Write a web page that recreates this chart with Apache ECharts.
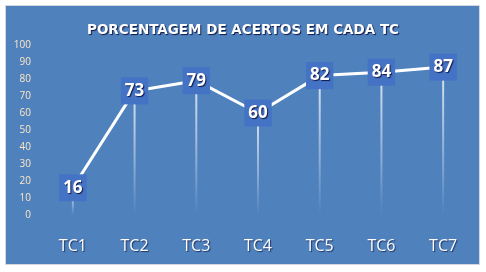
<!DOCTYPE html>
<html><head><meta charset="utf-8">
<script src="https://cdn.jsdelivr.net/npm/echarts@6/dist/echarts.min.js"></script>
<style>html,body{margin:0;padding:0;background:#fff}#c{width:486px;height:272px}</style>
</head><body><div id="c"></div>
<script>
const categories = ['TC1','TC2','TC3','TC4','TC5','TC6','TC7'];
const values = [16, 73, 79, 60, 82, 84, 87];
const yTicks = [0,10,20,30,40,50,60,70,80,90,100];
const titleText = 'PORCENTAGEM DE ACERTOS EM CADA TC';

const chart = echarts.init(document.getElementById('c'), null, {renderer:'canvas'});
chart.setOption({
  animation:false,
  backgroundColor:'#fff',
  graphic:[{type:'rect',z:-10,shape:{x:5.5,y:5.5,width:474,height:259},style:{fill:'#4F81BD',stroke:'#d4d8de',lineWidth:1}}],
  title:{text:titleText,left:'center',top:18,textStyle:{color:'#fff',fontFamily:'DejaVu Sans',fontWeight:'bold',fontSize:13.5,textShadowColor:'rgba(0,0,40,0.8)',textShadowBlur:1,textShadowOffsetX:1,textShadowOffsetY:1}},
  grid:{left:42,right:12,top:45,bottom:57},
  xAxis:{type:'category',data:categories,boundaryGap:true,
    axisLine:{show:false},axisTick:{show:false},
    axisLabel:{color:'#fff',fontSize:16,fontFamily:'Open Sans',margin:23,textShadowColor:'rgba(0,0,40,0.6)',textShadowOffsetX:1,textShadowOffsetY:1,textShadowBlur:1}},
  yAxis:{type:'value',min:yTicks[0],max:yTicks[yTicks.length-1],interval:10,
    splitLine:{show:false},axisLine:{show:false},axisTick:{show:false},
    axisLabel:{color:'#FFE6C4',fontSize:10,fontFamily:'Open Sans',margin:11,textShadowColor:'rgba(0,0,40,0.6)',textShadowOffsetX:1,textShadowOffsetY:0,textShadowBlur:0}},
  series:[
    {type:'bar',data:values,barWidth:2,z:1,silent:true,
      itemStyle:{color:new echarts.graphic.LinearGradient(0,0,0,1,[{offset:0,color:'rgba(255,255,255,0.8)'},{offset:0.6,color:'rgba(255,255,255,0.35)'},{offset:1,color:'rgba(255,255,255,0)'}])}},
    {type:'line',data:values,z:5,symbol:'rect',symbolSize:1,
      lineStyle:{color:'#fff',width:3},itemStyle:{color:'#fff'},
      label:{show:true,position:'inside',backgroundColor:'#4472C4',color:'#fff',fontFamily:'Open Sans',fontWeight:'bold',fontSize:17,lineHeight:18,padding:[5,4,4,4],
        textShadowColor:'rgba(0,0,40,0.8)',textShadowOffsetX:1,textShadowOffsetY:1,textShadowBlur:1}}
  ]
});
</script></body></html>
